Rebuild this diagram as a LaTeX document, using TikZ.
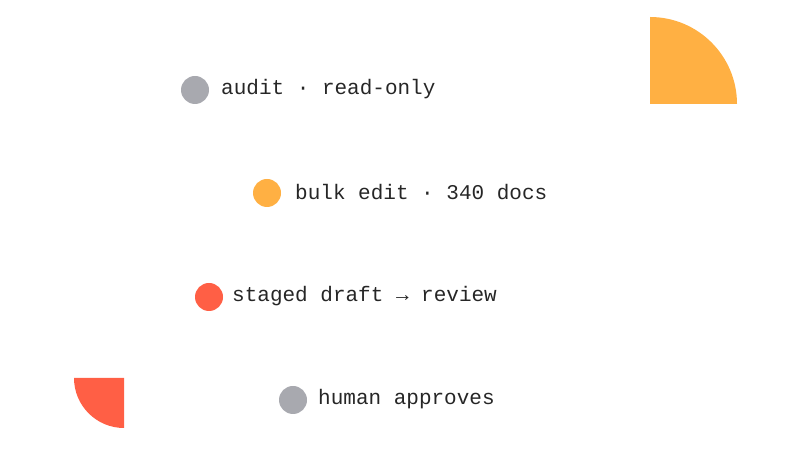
\documentclass[tikz,border=0pt]{standalone}
\usepackage{fontspec}
\setmonofont{Liberation Mono}
\begin{document}
\begin{tikzpicture}[x=1pt,y=1pt,
  dot/.style={circle,minimum size=28pt,inner sep=0pt},
  lbl/.style={anchor=west,inner sep=0pt,font=\ttfamily\fontsize{21}{24}\selectfont,text=black!85}]
\definecolor{og}{HTML}{FFB043}
\definecolor{rd}{HTML}{FF5F45}
\definecolor{gy}{HTML}{A8A9AF}
\useasboundingbox (0,0) rectangle (811,454);
\fill[og] (650,350) -- (650,437) arc (90:0:87) -- cycle;
\fill[rd] (124,76) -- (74,76) arc (180:270:50) -- cycle;
\node[dot,fill=gy] (d1) at (195,364) {};
\node[lbl] (t1) at (221,365) {audit · read-only};
\node[dot,fill=og] (d2) at (267,261) {};
\node[lbl] (t2) at (295,262) {bulk edit · 340 docs};
\node[dot,fill=rd] (d3) at (209,157) {};
\node[lbl] (t3) at (232,158) {staged draft → review};
\node[dot,fill=gy] (d4) at (293,54) {};
\node[lbl] (t4) at (318,55) {human approves};
\end{tikzpicture}
\end{document}
